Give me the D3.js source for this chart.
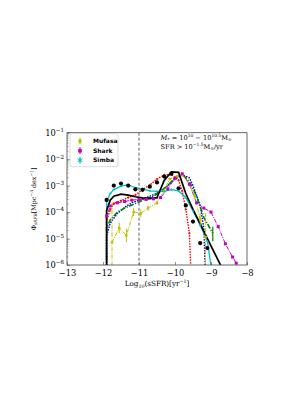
<!DOCTYPE html>
<html>
<head>
<meta charset="utf-8">
<script src="https://cdn.jsdelivr.net/npm/d3@7"></script>
<style>
  body { margin: 0; background: #fff; }
  svg text { font-family: "DejaVu Serif", "Liberation Serif", serif; }
  svg text.leg { font-family: "DejaVu Sans", sans-serif; font-weight: bold; }
</style>
</head>
<body>
<div id="chart"></div>
<script>
// Ticks
const xTicks = [-13, -12, -11, -10, -9, -8];
const yTickExps = [-1, -2, -3, -4, -5, -6];

// Observations (black dots), log10 phi
const obsX = [-11.9, -11.7, -11.5, -11.3, -11.1, -10.9, -10.7, -10.5, -10.3, -10.1, -9.9, -9.7, -9.5, -9.3, -9.1];
const obsLog = [-3.54, -3.0, -2.92, -3.0, -3.14, -3.16, -3.04, -2.88, -2.66, -2.55, -3.1, -3.75, -4.36, -5.17, -5.36];

// Black solid model
const blackX = [-11.9, -11.9, -11.8, -11.7, -11.5, -11.3, -11.1, -10.9, -10.7, -10.5, -10.3, -10.1, -9.9, -9.7, -9.5, -9.3, -9.1, -8.9, -8.7];
const blackLog = [-6.5, -3.95, -3.55, -3.4, -3.32, -3.36, -3.42, -3.46, -3.48, -3.45, -2.8, -2.48, -2.5, -3.3, -3.9, -4.45, -5.0, -5.55, -6.1];

// Red dotted
const redX = [-11.9, -11.9, -11.8, -11.7, -11.5, -11.3, -11.1, -10.9, -10.7, -10.5, -10.3, -10.1, -9.9, -9.8, -9.7, -9.6, -9.55];
const redLog = [-6.5, -4.3, -3.92, -3.67, -3.57, -3.45, -3.35, -3.15, -2.98, -2.75, -2.6, -2.58, -2.8, -3.2, -3.9, -4.8, -6.5];

// Blue dotted
const blueX = [-11.9, -11.9, -11.8, -11.6, -11.4, -11.2, -11.0, -10.8, -10.6, -10.4, -10.2, -10.0, -9.8, -9.6, -9.5, -9.3, -9.2, -9.15];
const blueLog = [-6.5, -4.9, -4.42, -4.05, -3.82, -3.65, -3.55, -3.45, -3.35, -3.2, -3.0, -2.75, -2.6, -2.7, -3.0, -3.75, -4.6, -6.5];

// Green dash-dot
const greenX = [-11.9, -11.9, -11.8, -11.6, -11.4, -11.2, -11.0, -10.8, -10.6, -10.4, -10.2, -10.0, -9.8, -9.6, -9.4, -9.2, -8.95];
const greenLog = [-6.5, -4.6, -4.3, -4.0, -3.85, -3.73, -3.62, -3.5, -3.4, -3.22, -3.0, -2.7, -2.57, -2.85, -3.4, -4.2, -4.8];

// Mufasa
const mufX = [-11.75, -11.55, -11.35, -11.15, -10.95, -10.75, -10.5, -10.3, -10.15, -9.95, -9.8, -9.6, -9.45, -9.3, -9.15];
const mufLog = [-5.15, -4.6, -4.88, -4.0, -4.05, -3.85, -3.65, -3.2, -2.75, -2.65, -2.6, -2.95, -3.4, -4.3, -4.95];
const mufErr = [1.5, 0.2, 0.25, 0.15, 0.15, 0.1, 0.08, 0.06, 0.05, 0.05, 0.05, 0.05, 0.08, 0.25, 1.5];

// Shark
const sharkX = [-11.9, -11.9, -11.8, -11.6, -11.4, -11.2, -11.0, -10.8, -10.6, -10.4, -10.2, -10.0, -9.8, -9.6, -9.4, -9.2, -9.0, -8.8, -8.6, -8.4, -8.3];
const sharkLog = [-6.5, -4.15, -3.77, -3.65, -3.6, -3.55, -3.52, -3.52, -3.5, -3.45, -3.12, -2.72, -2.55, -2.95, -3.65, -3.85, -4.0, -4.55, -5.2, -5.7, -5.93];

// Simba
const simbaX = [-11.9, -11.9, -11.8, -11.7, -11.5, -11.3, -11.1, -10.9, -10.7, -10.5, -10.3, -10.1, -9.9, -9.7, -9.5, -9.3, -9.1, -8.95];
const simbaLog = [-6.5, -3.6, -3.3, -3.15, -3.02, -2.97, -3.08, -3.12, -3.2, -3.22, -3.22, -3.15, -3.2, -3.45, -3.95, -4.5, -5.1, -6.5];

const legendNames = ["Mufasa", "Shark", "Simba"];
const legendColors = ["#bfbf00", "#bf00bf", "#00bfbf"];

const W = 306, H = 396;
const margin = { top: 132.7, right: 59, bottom: 131, left: 67 };
const width = W - margin.left - margin.right;
const height = H - margin.top - margin.bottom;

const svg = d3.select("#chart").append("svg")
    .attr("width", W).attr("height", H);

const g = svg.append("g")
    .attr("transform", `translate(${margin.left},${margin.top})`);

const x = d3.scaleLinear().domain([-13, -8]).range([0, width]);
const y = d3.scaleLog().domain([1e-6, 1e-1]).range([height, 0]);

g.append("clipPath").attr("id", "clip")
    .append("rect").attr("width", width).attr("height", height);

const plot = g.append("g").attr("clip-path", "url(#clip)");

// vertical dashed line at -11
plot.append("line")
    .attr("x1", x(-11)).attr("x2", x(-11))
    .attr("y1", 0).attr("y2", height)
    .attr("stroke", "#333").attr("stroke-width", 0.8)
    .attr("stroke-dasharray", "3,2");

const toPts = (xs, ls) => xs.map((v, i) => [v, Math.pow(10, ls[i])]);
const line = d3.line().x(d => x(d[0])).y(d => y(d[1]));

function drawLine(xs, ls, color, w, dash) {
    plot.append("path")
        .datum(toPts(xs, ls))
        .attr("d", line)
        .attr("fill", "none")
        .attr("stroke", color)
        .attr("stroke-width", w)
        .attr("stroke-dasharray", dash || null)
        .attr("stroke-linecap", dash === "0.1,2.6" ? "round" : "butt");
}

// Lines
drawLine(redX, redLog, "#ff0000", 1.6, "0.1,2.6");
drawLine(blueX, blueLog, "#0000ff", 1.6, "0.1,2.6");
drawLine(greenX, greenLog, "#008000", 1.6, "5,1.5,1.2,1.5");
drawLine(sharkX, sharkLog, "#bf00bf", 1.0, "4,1.2,1,1.2");
drawLine(mufX, mufLog, "#bfbf00", 1.0, "4,1.2,1,1.2");
drawLine(simbaX, simbaLog, "#00bfbf", 1.3, null);
drawLine(blackX, blackLog, "#000", 1.7, null);

// red plus markers
plot.selectAll(".redm").data(toPts(redX, redLog).slice(2, -1)).enter()
    .append("path")
    .attr("d", d => `M${x(d[0]) - 1.2},${y(d[1])}h2.4M${x(d[0])},${y(d[1]) - 1.2}v2.4`)
    .attr("stroke", "#ff0000").attr("stroke-width", 0.8);

// green errorbar at last point
const gl = greenX.length - 1;
plot.append("line")
    .attr("x1", x(greenX[gl])).attr("x2", x(greenX[gl]))
    .attr("y1", y(Math.pow(10, greenLog[gl] + 0.25)))
    .attr("y2", y(Math.pow(10, greenLog[gl] - 0.3)))
    .attr("stroke", "#008000").attr("stroke-width", 1.2);

// Mufasa markers + errorbars
const mufPts = toPts(mufX, mufLog);
plot.selectAll(".muferr").data(mufPts).enter()
    .append("line")
    .attr("x1", d => x(d[0])).attr("x2", d => x(d[0]))
    .attr("y1", (d, i) => y(d[1] * Math.pow(10, i === mufPts.length - 1 ? 0.9 : mufErr[i])))
    .attr("y2", (d, i) => y(d[1] / Math.pow(10, mufErr[i])))
    .attr("stroke", "#bfbf00").attr("stroke-width", 1.0)
    .attr("stroke-dasharray", (d, i) => (i === 0 || i === mufPts.length - 1) ? "4,1.2,1,1.2" : null);
plot.selectAll(".mufm").data(mufPts).enter()
    .append("rect")
    .attr("x", d => x(d[0]) - 1.2).attr("y", d => y(d[1]) - 1.2)
    .attr("width", 2.4).attr("height", 2.4)
    .attr("fill", "#bfbf00");

// Shark markers
plot.selectAll(".sharkm").data(toPts(sharkX, sharkLog).slice(1)).enter()
    .append("rect")
    .attr("x", d => x(d[0]) - 1.5).attr("y", d => y(d[1]) - 1.5)
    .attr("width", 3).attr("height", 3)
    .attr("fill", "#bf00bf");

// Simba markers
plot.selectAll(".simbam").data(toPts(simbaX, simbaLog).slice(1, -1)).enter()
    .append("path")
    .attr("d", d => `M${x(d[0]) - 1.2},${y(d[1])}h2.4M${x(d[0])},${y(d[1]) - 1.2}v2.4`)
    .attr("stroke", "#00bfbf").attr("stroke-width", 0.8);

// Observations
plot.selectAll(".obs").data(toPts(obsX, obsLog)).enter()
    .append("circle")
    .attr("cx", d => x(d[0])).attr("cy", d => y(d[1]))
    .attr("r", 2.1).attr("fill", "#000");

// Frame
g.append("rect")
    .attr("width", width).attr("height", height)
    .attr("fill", "none").attr("stroke", "#444").attr("stroke-width", 0.8);

// X axis ticks (inward)
const xAxis = g.append("g").attr("transform", `translate(0,${height})`)
    .call(d3.axisBottom(x).tickValues(xTicks).tickSizeInner(-3).tickSizeOuter(0).tickPadding(5)
        .tickFormat(d => "\u2212" + Math.abs(d)));
xAxis.select(".domain").remove();
xAxis.selectAll("line").attr("stroke", "#444").attr("stroke-width", 0.6);
xAxis.selectAll("text").attr("font-size", 8.3)
    .attr("font-family", "DejaVu Serif").attr("fill", "#000");

// Y axis (inward ticks, custom labels)
const yAxis = g.append("g")
    .call(d3.axisLeft(y).tickValues(yTickExps.map(e => Math.pow(10, e)))
        .tickSizeInner(-3).tickSizeOuter(0).tickFormat(""));
yAxis.select(".domain").remove();
yAxis.selectAll("line").attr("stroke", "#444").attr("stroke-width", 0.6);

// minor ticks
const minor = [];
yTickExps.slice(1).forEach(e => { for (let k = 2; k < 10; k++) minor.push(k * Math.pow(10, e)); });
g.selectAll(".minor").data(minor).enter()
    .append("line")
    .attr("x1", 0).attr("x2", 1.6)
    .attr("y1", d => y(d)).attr("y2", d => y(d))
    .attr("stroke", "#444").attr("stroke-width", 0.4);

yTickExps.forEach(e => {
    const t = g.append("text")
        .attr("x", -3).attr("y", y(Math.pow(10, e)) + 3)
        .attr("text-anchor", "end")
        .attr("font-size", 8.3);
    t.append("tspan").text("10");
    t.append("tspan").attr("dy", -3.6).attr("font-size", 5.6).text("\u2212" + Math.abs(e));
});

// Axis titles
const xl = svg.append("text")
    .attr("x", margin.left + width / 2).attr("y", 286)
    .attr("text-anchor", "middle").attr("font-size", 7.2);
xl.append("tspan").text("Log");
xl.append("tspan").attr("dy", 1.5).attr("font-size", 4.8).text("10");
xl.append("tspan").attr("dy", -1.5).text("(sSFR)[yr");
xl.append("tspan").attr("dy", -2.8).attr("font-size", 4.8).text("\u22121");
xl.append("tspan").attr("dy", 2.8).text("]");

const yl = svg.append("text")
    .attr("transform", `translate(36,${margin.top + height / 2}) rotate(-90)`)
    .attr("text-anchor", "middle").attr("font-size", 6.4);
yl.append("tspan").text("\u03A6");
yl.append("tspan").attr("dy", 1.4).attr("font-size", 4.4).attr("font-style", "italic").text("sSFR");
yl.append("tspan").attr("dy", -1.4).text("[Mpc");
yl.append("tspan").attr("dy", -2.6).attr("font-size", 4.4).text("\u22123");
yl.append("tspan").attr("dy", 2.6).text(" dex");
yl.append("tspan").attr("dy", -2.6).attr("font-size", 4.4).text("\u22121");
yl.append("tspan").attr("dy", 2.6).text("]");

// Annotation
const a1 = g.append("text").attr("x", x(-10.4)).attr("y", 7).attr("font-size", 6.6);
a1.append("tspan").attr("font-style", "italic").text("M");
a1.append("tspan").attr("dy", 1.3).attr("font-size", 4.4).text("*");
a1.append("tspan").attr("dy", -1.3).text(" = 10");
a1.append("tspan").attr("dy", -2.6).attr("font-size", 4.4).text("10");
a1.append("tspan").attr("dy", 2.6).text(" \u2212 10");
a1.append("tspan").attr("dy", -2.6).attr("font-size", 4.4).text("10.5");
a1.append("tspan").attr("dy", 2.6).text("M");
a1.append("tspan").attr("dy", 1.3).attr("font-size", 4.4).text("\u2299");
const a2 = g.append("text").attr("x", x(-10.4)).attr("y", 16).attr("font-size", 6.6);
a2.append("tspan").text("SFR > 10");
a2.append("tspan").attr("dy", -2.6).attr("font-size", 4.4).text("\u22121.5");
a2.append("tspan").attr("dy", 2.6).text("M");
a2.append("tspan").attr("dy", 1.3).attr("font-size", 4.4).text("\u2299");
a2.append("tspan").attr("dy", -1.3).text("/yr");

// Legend
const lg = g.append("g").attr("transform", "translate(3,1)");
lg.append("rect")
    .attr("width", 48).attr("height", 33).attr("rx", 2)
    .attr("fill", "#fff").attr("stroke", "#ccc").attr("stroke-width", 0.7);
legendNames.forEach((name, i) => {
    const cy = 7.5 + i * 9.5;
    const c = legendColors[i];
    lg.append("line").attr("x1", 10).attr("x2", 10)
        .attr("y1", cy - 3.5).attr("y2", cy + 3.5)
        .attr("stroke", c).attr("stroke-width", 1);
    if (i === 0) {
        lg.append("ellipse").attr("cx", 10).attr("cy", cy).attr("rx", 1.6).attr("ry", 2.4).attr("fill", c);
    } else if (i === 1) {
        lg.append("rect").attr("x", 8.2).attr("y", cy - 1.8).attr("width", 3.6).attr("height", 3.6).attr("fill", c);
    } else {
        lg.append("path").attr("d", `M7.5,${cy - 1.5}L12.5,${cy + 1.5}M7.5,${cy + 1.5}L12.5,${cy - 1.5}M10,${cy - 2.5}V${cy + 2.5}`)
            .attr("stroke", c).attr("stroke-width", 1);
    }
    lg.append("text").attr("class", "leg").attr("x", 23).attr("y", cy + 2.2)
        .attr("font-size", 6).text(name);
});
</script>
</body>
</html>
